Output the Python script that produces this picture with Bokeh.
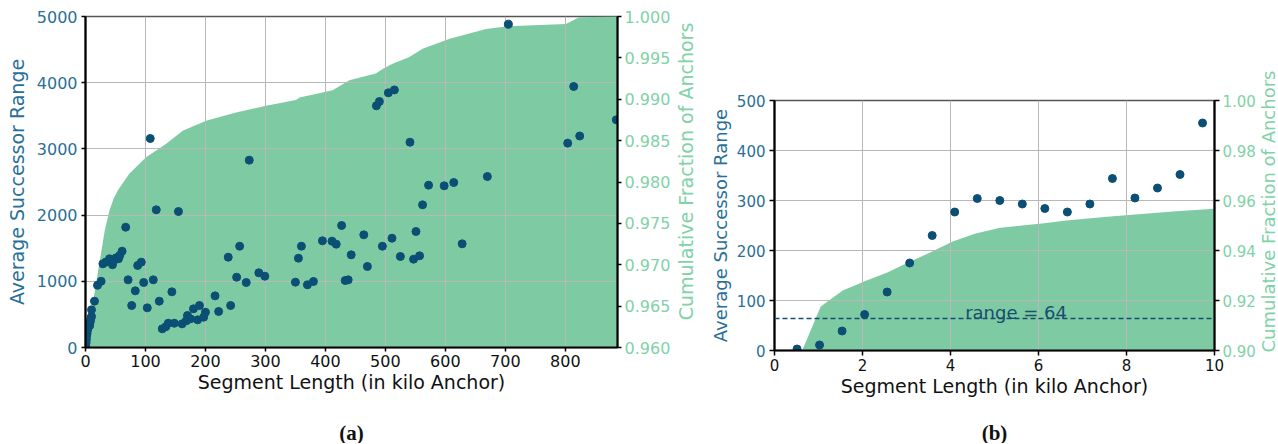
import math
from bokeh.plotting import figure
from bokeh.models import (Range1d, LinearAxis, FixedTicker, PrintfTickFormatter,
                          Span, Label, Spacer)
from bokeh.layouts import row, column
from bokeh.embed import file_html
from bokeh.resources import INLINE

# ---------------- data: panel (a) ----------------
a_seg_len = [0.5, 1, 1.5, 2, 2.5, 3, 4, 5, 6, 7, 8, 9, 10, 10, 15, 20, 26,
             29, 34, 40, 45, 47, 51, 55, 57, 61, 67, 71, 77, 83, 87, 93, 97, 103,
             108, 113, 118, 123, 128, 134, 138, 144, 148, 155, 161, 168, 170, 175,
             180, 187, 190, 197, 200, 216, 222, 238, 242, 252, 257, 268, 273, 289,
             299, 350, 355, 360, 370, 380, 395, 411, 418, 427, 433, 438, 443, 464,
             470, 485, 490, 495, 505, 511, 515, 525, 541, 547, 551, 557, 562, 572,
             598, 614, 628, 670, 705, 804, 814, 824, 885]
a_succ_range = [20, 70, 120, 180, 210, 250, 290, 320, 350, 330, 390, 440, 470, 570, 700, 940, 1000,
                1264, 1290, 1340, 1250, 1310, 1355, 1340, 1390, 1455, 1817, 1022, 634, 856, 1239, 1289, 982, 599,
                3157, 1022, 2080, 700, 282, 315, 367, 841, 367, 2054, 357, 403, 483, 433,
                584, 418, 634, 458, 533, 780, 544, 1364, 634, 1062, 1530, 982, 2830, 1128,
                1077, 987, 1349, 1530, 947, 997, 1612, 1606, 1561, 1843, 1012, 1022, 1400, 1702,
                1224, 3651, 3716, 1530, 3847, 1651, 3891, 1375, 3101, 1334, 1752, 1385, 2155, 2452,
                2442, 2492, 1566, 2583, 4884, 3087, 3943, 3195, 3439]
a_cdf_len = [0, 16, 32, 40, 47, 54, 73, 101, 134, 162, 201, 251, 301, 351, 357, 412,
             440, 484, 496, 512, 540, 562, 607, 668, 701, 801, 823, 887]
a_cdf_frac = [0.9600, 0.9670, 0.9741, 0.9766, 0.9780, 0.9790, 0.9810, 0.9830, 0.9846,
              0.9862, 0.9874, 0.9884, 0.9892, 0.9899, 0.9902, 0.9911, 0.9923, 0.9931,
              0.9937, 0.9943, 0.9951, 0.9961, 0.9973, 0.9985, 0.9988, 0.9991, 0.9999, 1.0000]
a_xticks = [0, 100, 200, 300, 400, 500, 600, 700, 800]
a_yticks = [0, 1000, 2000, 3000, 4000, 5000]
a_rticks = [0.960, 0.965, 0.970, 0.975, 0.980, 0.985, 0.990, 0.995, 1.000]

# ---------------- data: panel (b) ----------------
b_seg_len = [0.512, 1.024, 1.536, 2.048, 2.56, 3.072, 3.584, 4.096, 4.608, 5.12,
             5.632, 6.144, 6.656, 7.168, 7.68, 8.192, 8.704, 9.216, 9.728]
b_succ_range = [3, 11, 39, 72, 117, 175, 230, 277, 304, 300, 293, 284, 277, 293,
                344, 305, 325, 352, 455]
b_cdf_len = [0.63, 1.05, 1.55, 2.05, 2.55, 3.05, 3.55, 4.05, 4.55, 5.13, 5.63, 6.13,
             6.63, 7.13, 7.63, 8.13, 8.63, 9.13, 10.0]
b_cdf_frac = [0.9000, 0.9176, 0.9240, 0.9277, 0.9311, 0.9353, 0.9393, 0.9436, 0.9467,
              0.9491, 0.9500, 0.9509, 0.9520, 0.9528, 0.9536, 0.9543, 0.9550, 0.9557, 0.9567]
b_threshold = 64
b_xticks = [0, 2, 4, 6, 8, 10]
b_yticks = [0, 100, 200, 300, 400, 500]
b_rticks = [0.90, 0.92, 0.94, 0.96, 0.98, 1.00]

LEFT_TITLE = "Average Successor Range"
RIGHT_TITLE = "Cumulative Fraction of Anchors"
X_TITLE = "Segment Length (in kilo Anchor)"
CAPTIONS = ["(a)", "(b)"]

DOT = "#0b4f74"
FILL = "#7ecba3"
LBLUE = "#2a6f97"
LGREEN = "#80d2a7"
FONT = "DejaVu Sans"
H = 443          # total height of every column
PLOT_BOTTOM = 407  # where the panels end and the caption strips start


def make_panel(xs, ys, cx, cy, xr, yr, rr, xticks, yticks, rticks, rfmt,
               fw, fh, bl, br, bt, bb, tick_px, lab_px, xlab_px,
               tick_len, ylab_standoff):
    p = figure(frame_width=fw, frame_height=fh, x_range=Range1d(*xr),
               y_range=Range1d(*yr), output_backend="svg", toolbar_location=None,
               min_border_left=bl, min_border_right=br, min_border_top=bt,
               min_border_bottom=bb, background_fill_color="white",
               border_fill_color="white")
    p.extra_y_ranges = {"cum": Range1d(*rr)}
    area = p.varea(x=cx, y1=[rr[0]] * len(cx), y2=cy, y_range_name="cum",
                   fill_color=FILL, fill_alpha=1.0)
    area.level = "image"
    p.scatter(xs, ys, size=8, fill_color=DOT, line_color=DOT)

    p.outline_line_color = "#555555"
    p.outline_line_width = 1.5

    for g in (p.xgrid, p.ygrid):
        g.grid_line_color = "#b8b8b8"
        g.grid_line_width = 1
    p.xgrid.ticker = FixedTicker(ticks=xticks)
    p.ygrid.ticker = FixedTicker(ticks=yticks)

    xa = p.xaxis[0]
    xa.ticker = FixedTicker(ticks=xticks)
    xa.axis_label = X_TITLE
    xa.axis_label_text_font = FONT
    xa.axis_label_text_font_style = "normal"
    xa.axis_label_text_font_size = xlab_px
    xa.axis_label_text_color = "#111111"
    xa.axis_label_standoff = 1
    xa.major_label_text_font = FONT
    xa.major_label_text_font_size = tick_px
    xa.major_label_text_color = "#111111"
    xa.major_label_standoff = 3

    ya = p.yaxis[0]
    ya.ticker = FixedTicker(ticks=yticks)
    ya.axis_label = LEFT_TITLE
    ya.axis_label_text_font = FONT
    ya.axis_label_text_font_style = "normal"
    ya.axis_label_text_font_size = lab_px
    ya.axis_label_text_color = LBLUE
    ya.axis_label_standoff = ylab_standoff
    ya.major_label_text_font = FONT
    ya.major_label_text_font_size = tick_px
    ya.major_label_text_color = LBLUE
    ya.major_label_standoff = 4

    ra = LinearAxis(y_range_name="cum", ticker=FixedTicker(ticks=rticks),
                    formatter=PrintfTickFormatter(format=rfmt))
    ra.major_label_text_font = FONT
    ra.major_label_text_font_size = tick_px
    ra.major_label_text_color = LGREEN
    ra.major_label_standoff = 3
    p.add_layout(ra, "right")

    for ax in (xa, ya, ra):
        ax.axis_line_color = "black"
        ax.axis_line_width = 2.2
        ax.major_tick_line_color = "black"
        ax.major_tick_line_width = 1.5
        ax.major_tick_out = tick_len
        ax.major_tick_in = 0
        ax.minor_tick_line_color = None
    return p


def strip(width, height):
    return figure(frame_width=width, frame_height=height, x_range=Range1d(0, width),
                  y_range=Range1d(0, height), x_axis_type=None, y_axis_type=None,
                  output_backend="svg", toolbar_location=None, min_border=0,
                  min_border_left=0, min_border_right=0, min_border_top=0,
                  min_border_bottom=0, outline_line_color=None,
                  background_fill_color="white", border_fill_color="white")


def side_title(width, center_y, font_px):
    # narrow strip holding the right-hand axis title, read bottom-to-top
    f = strip(width, H)
    f.add_layout(Label(x=width / 2, y=H - center_y, text=RIGHT_TITLE, angle=math.pi / 2,
                       text_align="center", text_baseline="middle", text_font=FONT,
                       text_font_size=font_px, text_color=LGREEN))
    return f


def caption_strip(frame_width, center_y, text):
    # the column lines this strip's frame up with the panel's frame above it
    h = H - PLOT_BOTTOM
    f = strip(frame_width, h)
    f.add_layout(Label(x=frame_width / 2, y=H - center_y, text=text, text_align="center",
                       text_baseline="middle", text_font="Liberation Serif",
                       text_font_size="21px", text_font_style="bold",
                       text_color="#111111"))
    return f


# panel (a): frame 532x331, top at 16
A_BL, A_BR, A_FW = 85, 56, 532
pa = make_panel(a_seg_len, a_succ_range, a_cdf_len, a_cdf_frac,
                (0, 887), (0, 5000), (0.96, 1.0), a_xticks, a_yticks, a_rticks, "%.3f",
                A_FW, 331, A_BL, A_BR, 16, PLOT_BOTTOM - 16 - 331,
                "16px", "19px", "19px", 4, 6)
cap_a = caption_strip(A_FW, 432, CAPTIONS[0])
lab_a = side_title(24, 171, "19px")

# panel (b): frame 440x250, top at 100
B_BL, B_BR, B_FW, B_TOP = 77, 40, 440, 92
pb = make_panel(b_seg_len, b_succ_range, b_cdf_len, b_cdf_frac,
                (0, 10), (0, 500), (0.90, 1.0), b_xticks, b_yticks, b_rticks, "%.2f",
                B_FW, 250, B_BL, B_BR, 8, PLOT_BOTTOM - B_TOP - 8 - 250,
                "15px", "18px", "19px", 5, 3)
pb.add_layout(Span(location=b_threshold, dimension="width", line_color="#1a4d6e",
                   line_dash="5 3", line_width=1.5))
pb.add_layout(Label(x=5.49, y=b_threshold + 13, text="range = %d" % b_threshold,
                    text_align="center", text_baseline="alphabetic",
                    text_font=FONT, text_font_size="18px", text_color="#1a4d6e"))
cap_b = caption_strip(B_FW, 432, CAPTIONS[1])
lab_b = side_title(20, 211, "18px")

layout = row(column(pa, cap_a), lab_a,
             column(Spacer(height=B_TOP, width=1), pb, cap_b), lab_b)
open("out.html", "w").write(file_html(layout, INLINE))
